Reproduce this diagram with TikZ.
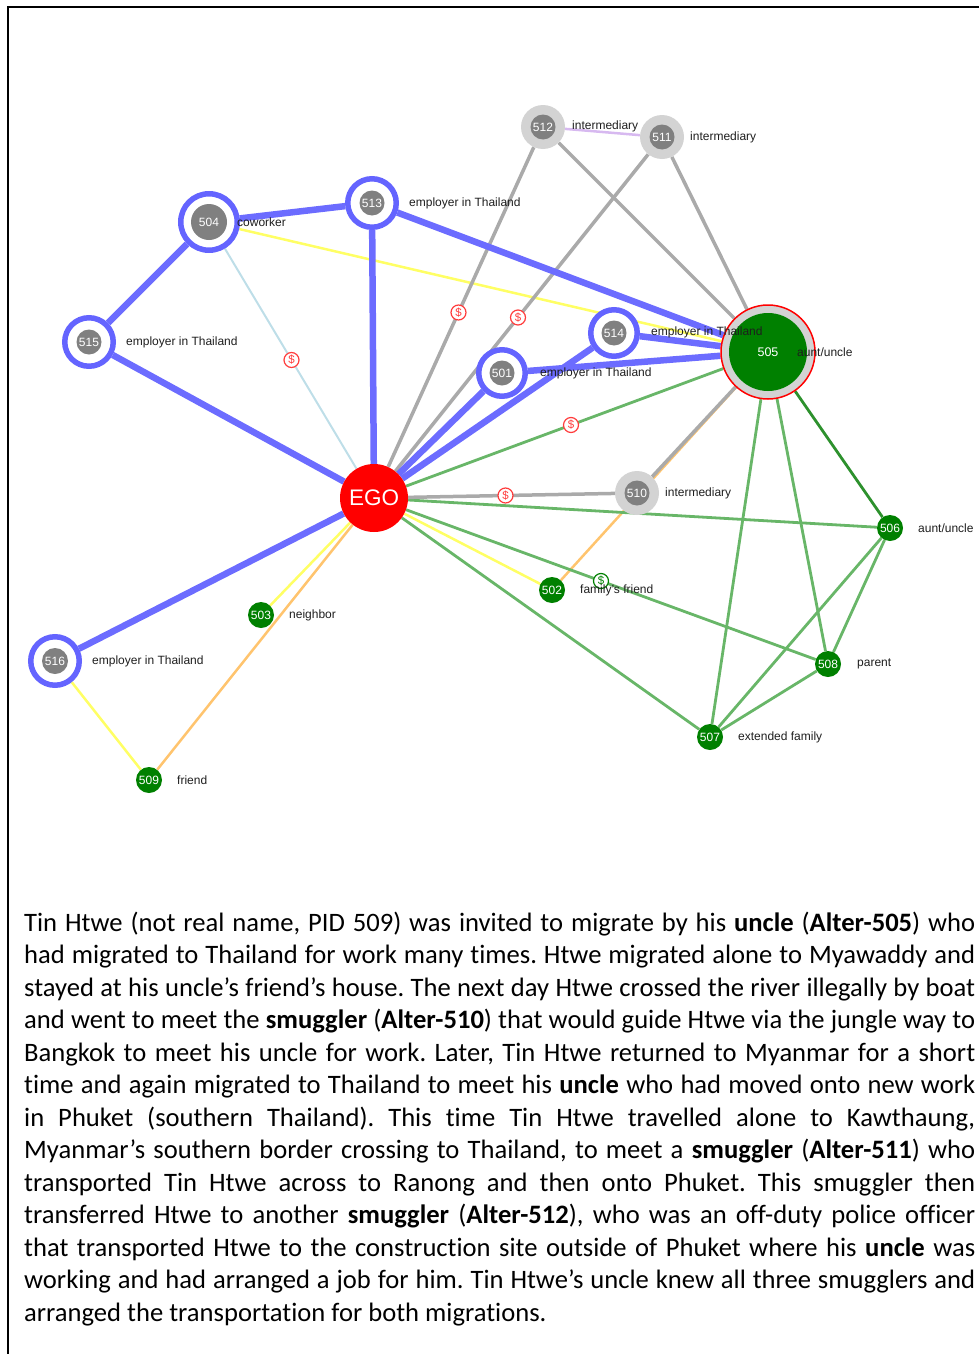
\documentclass[tikz,border=0pt]{standalone}
\usepackage{fontspec}
\setmainfont[RawFeature=-liga]{Carlito}
\newfontfamily\labelfont{Liberation Sans}
\usetikzlibrary{calc}
\pgfdeclarelayer{edges}
\pgfsetlayers{edges,main}

\definecolor{ringblue}{RGB}{100,100,255}
\definecolor{edgeblue}{RGB}{108,108,255}
\definecolor{coregray}{RGB}{128,128,128}
\definecolor{ringgray}{RGB}{211,211,211}
\definecolor{edgegray}{RGB}{170,170,170}
\definecolor{nodegreen}{RGB}{0,128,0}
\definecolor{edgegreen}{RGB}{104,182,104}
\definecolor{darkedgegreen}{RGB}{45,145,45}
\definecolor{edgeyellow}{RGB}{255,255,100}
\definecolor{edgeorange}{RGB}{255,196,110}
\definecolor{edgelightblue}{RGB}{190,222,232}
\definecolor{edgelavender}{RGB}{215,185,240}
\definecolor{egored}{RGB}{255,0,0}
\definecolor{labelink}{RGB}{30,30,30}
\definecolor{dollarred}{RGB}{255,60,60}

\newcommand\fullline[1]{\makebox[951pt][s]{#1}\\}

\tikzset{
  numfont/.style={font=\labelfont\fontsize{12}{12}\selectfont},
  bluering/.style={circle, draw=ringblue, line width=5.5pt, fill=white, inner sep=0pt, minimum size=#1},
  graycore/.style={circle, fill=coregray, text=white, inner sep=0pt, minimum size=#1, numfont},
  grayring/.style={circle, fill=ringgray, inner sep=0pt, minimum size=44pt},
  alter/.style={circle, fill=nodegreen, text=white, inner sep=0pt, minimum size=26pt, numfont},
  lbl/.style={anchor=west, inner sep=0pt, text=labelink, numfont},
  dollar/.style={circle, draw=dollarred, fill=white, line width=1.2pt, inner sep=0pt,
    minimum size=15pt, text=dollarred, font=\labelfont\fontsize{11.5}{11.5}\selectfont},
  dollargreen/.style={dollar, draw=nodegreen, text=nodegreen},
  blueedge/.style={draw=edgeblue, line width=6.5pt},
  grayedge/.style={draw=edgegray, line width=3.5pt},
  greenedge/.style={draw=edgegreen, line width=2.8pt},
  yellowedge/.style={draw=edgeyellow, line width=2.5pt},
  orangeedge/.style={draw=edgeorange, line width=2.5pt},
}

\begin{document}
\begin{tikzpicture}[x=1pt, y=-1pt]
\useasboundingbox (0,0) rectangle (979,1354);

% frame
\draw[line width=2pt] (979,7) -- (8,7) -- (8,1354);

% ego
\node[circle, fill=egored, minimum size=68pt, inner sep=0pt, text=white,
      font=\labelfont\fontsize{22.5}{22.5}\selectfont] (ego) at (374,498) {EGO};

% employers / coworker (blue rings)
\node[bluering=56.5pt] (n504) at (209,222) {};
\node[graycore=36pt] (c504) at (n504) {504};
\node[bluering=48.5pt] (n513) at (372,203) {};
\node[graycore=25pt] (c513) at (n513) {513};
\node[bluering=48.5pt] (n515) at (89,342) {};
\node[graycore=25pt] (c515) at (n515) {515};
\node[bluering=48.5pt] (n516) at (55,661) {};
\node[graycore=26pt] (c516) at (n516) {516};
\node[bluering=46.5pt] (n501) at (502,373) {};
\node[graycore=25pt] (c501) at (n501) {501};
\node[bluering=46.5pt] (n514) at (614,333) {};
\node[graycore=25pt] (c514) at (n514) {514};

% intermediaries (gray rings)
\node[grayring] (n512) at (543,127) {};
\node[graycore=25pt] (c512) at (n512) {512};
\node[grayring] (n511) at (662,137) {};
\node[graycore=25pt] (c511) at (n511) {511};
\node[grayring] (n510) at (637,493) {};
\node[graycore=25pt] (c510) at (n510) {510};

% uncle
\node[circle, fill=ringgray, draw=egored, line width=1.5pt, inner sep=0pt, minimum size=94pt] (n505) at (768,352) {};
\node[circle, fill=nodegreen, text=white, inner sep=0pt, minimum size=78pt,
      font=\labelfont\fontsize{12.5}{12.5}\selectfont] (c505) at (n505) {505};

% family and friends
\node[alter] (n502) at (552,590) {502};
\node[alter] (n503) at (261,615) {503};
\node[alter] (n509) at (149,780) {509};
\node[alter] (n506) at (890,528) {506};
\node[alter] (n508) at (828,664) {508};
\node[alter] (n507) at (710,737) {507};

% ties
\begin{pgfonlayer}{edges}
  \draw[draw=edgelavender, line width=2.5pt] (n512) -- (n511);
  \draw[draw=edgelightblue, line width=2pt] (n504) -- (ego);
  \draw[yellowedge] (n504) -- (n505);
  \draw[yellowedge] (ego) -- (n503);
  \draw[yellowedge] (ego) -- (n502);
  \draw[yellowedge] (n516) -- (n509);
  \draw[orangeedge] (ego) -- (n509);
  \draw[orangeedge] (n502) -- (n505);
  \draw[greenedge] (ego) -- (n505);
  \draw[greenedge] (ego) -- (n506);
  \draw[greenedge] (ego) -- (n508);
  \draw[greenedge] (ego) -- (n507);
  \draw[greenedge] (n505) -- (n507);
  \draw[greenedge] (n505) -- (n508);
  \draw[greenedge] (n506) -- (n507);
  \draw[greenedge] (n506) -- (n508);
  \draw[greenedge] (n508) -- (n507);
  \draw[draw=darkedgegreen, line width=2.8pt] (n505) -- (n506);
  \draw[grayedge] (n512) -- (ego);
  \draw[grayedge] (n511) -- (ego);
  \draw[grayedge] (n512) -- (n505);
  \draw[grayedge] (n511) -- (n505);
  \draw[grayedge] (ego) -- (n510);
  \draw[grayedge] (n510) -- (n505);
  \draw[blueedge] (n504) -- (n513);
  \draw[blueedge] (n504) -- (n515);
  \draw[blueedge] (n515) -- (ego);
  \draw[blueedge] (n513) -- (ego);
  \draw[blueedge] (n513) -- (n505);
  \draw[blueedge] (ego) -- (n501);
  \draw[blueedge] (ego) -- (n514);
  \draw[blueedge] (n501) -- (n505);
  \draw[blueedge] (n514) -- (n505);
  \draw[blueedge] (ego) -- (n516);
\end{pgfonlayer}

% payment markers
\node[dollar] (pay1) at ($(n512)!0.5!(ego)$) {\$};
\node[dollar] (pay2) at ($(n511)!0.5!(ego)$) {\$};
\node[dollar] (pay3) at ($(n504)!0.5!(ego)$) {\$};
\node[dollar] (pay4) at ($(ego)!0.5!(n505)$) {\$};
\node[dollar] (pay5) at ($(ego)!0.5!(n510)$) {\$};
\node[dollargreen] (pay6) at ($(ego)!0.5!(n508)$) {\$};

% relation labels
\node[lbl] (l512) at (572,126) {intermediary};
\node[lbl] (l511) at (690,137) {intermediary};
\node[lbl] (l513) at (409,203) {employer in Thailand};
\node[lbl] (l504) at (237,222) {coworker};
\node[lbl] (l515) at (126,342) {employer in Thailand};
\node[lbl] (l514) at (651,332) {employer in Thailand};
\node[lbl] (l505) at (797,352) {aunt/uncle};
\node[lbl] (l501) at (540,373) {employer in Thailand};
\node[lbl] (l510) at (665,493) {intermediary};
\node[lbl] (l506) at (918,528) {aunt/uncle};
\node[lbl] (l502) at (580,590) {family’s friend};
\node[lbl] (l503) at (289,615) {neighbor};
\node[lbl] (l508) at (857,664) {parent};
\node[lbl] (l516) at (92,661) {employer in Thailand};
\node[lbl] (l507) at (738,737) {extended family};
\node[lbl] (l509) at (177,780) {friend};

% narrative
\node[anchor=base west, inner sep=0pt] (story) at (24,931) {%
\begin{minipage}[t]{951pt}
\fontsize{26.6pt}{32.5pt}\selectfont\setlength{\parindent}{0pt}\frenchspacing
\fullline{Tin Htwe (not real name, PID 509) was invited to migrate by his \textbf{uncle} (\textbf{Alter-505}) who}
\fullline{had migrated to Thailand for work many times. Htwe migrated alone to Myawaddy and}
\fullline{stayed at his uncle’s friend’s house. The next day Htwe crossed the river illegally by boat}
\fullline{and went to meet the \textbf{smuggler} (\textbf{Alter-510}) that would guide Htwe via the jungle way to}
\fullline{Bangkok to meet his uncle for work. Later, Tin Htwe returned to Myanmar for a short}
\fullline{time and again migrated to Thailand to meet his \textbf{uncle} who had moved onto new work}
\fullline{in Phuket (southern Thailand). This time Tin Htwe travelled alone to Kawthaung,}
\fullline{Myanmar’s southern border crossing to Thailand, to meet a \textbf{smuggler} (\textbf{Alter-511}) who}
\fullline{transported Tin Htwe across to Ranong and then onto Phuket. This smuggler then}
\fullline{transferred Htwe to another \textbf{smuggler} (\textbf{Alter-512}), who was an off-duty police officer}
\fullline{that transported Htwe to the construction site outside of Phuket where his \textbf{uncle} was}
\fullline{working and had arranged a job for him. Tin Htwe’s uncle knew all three smugglers and}
arranged the transportation for both migrations.
\end{minipage}};
\end{tikzpicture}
\end{document}
